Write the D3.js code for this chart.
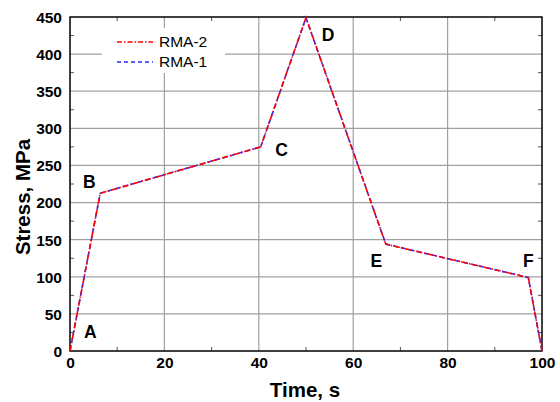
<!DOCTYPE html>
<html><head><meta charset="utf-8">
<script src="https://cdn.jsdelivr.net/npm/d3@7"></script>
<style>body{margin:0;background:#fff}</style>
</head><body><svg id="c" width="560" height="402"></svg>
<script>
const time = [0, 6.4, 40.4, 50, 66.9, 97.1, 100];
const rma1 = [0, 212.5, 275, 449, 144, 99, 0];
const rma2 = [0, 212.5, 275, 449, 144, 99, 0];
const pointLabels = ["A", "B", "C", "D", "E", "F"];
const labelPos = [[4.3, 17.5], [4.1, 220], [44.8, 263], [54.7, 417], [64.9, 113.6], [97.1, 113.6]];
const xTicks = [0, 20, 40, 60, 80, 100];
const yTicks = [0, 50, 100, 150, 200, 250, 300, 350, 400, 450];
const seriesNames = ["RMA-2", "RMA-1"];

const svg = d3.select("#c");
const L = 70, R = 542, T = 17, B = 351;
const x = d3.scaleLinear().domain([0, 100]).range([L, R]);
const y = d3.scaleLinear().domain([0, 450]).range([B, T]);
const font = "Arial, 'Liberation Sans', sans-serif";

// grid
const g = svg.append("g");
g.selectAll(".gx").data(xTicks.slice(1, -1)).join("line")
  .attr("x1", d => x(d)).attr("x2", d => x(d)).attr("y1", T).attr("y2", B)
  .attr("stroke", "#a0a0a0").attr("stroke-width", 1.2);
g.selectAll(".gy").data(yTicks.slice(1, -1)).join("line")
  .attr("x1", L).attr("x2", R).attr("y1", d => y(d)).attr("y2", d => y(d))
  .attr("stroke", "#a0a0a0").attr("stroke-width", 1.2);

// legend background
svg.append("rect").attr("x", 102).attr("y", 28).attr("width", 123).attr("height", 45).attr("fill", "#fff");

// axes with inward ticks
const minorX = d3.range(10, 100, 20);
const minorY = d3.range(25, 450, 50);
const ax = svg.append("g").attr("transform", `translate(0,${B})`)
  .call(d3.axisBottom(x).tickValues(xTicks).tickSize(0).tickPadding(6));
ax.select(".domain").remove();
ax.selectAll("text").attr("font-family", font).attr("font-weight", "bold").attr("font-size", 15.5).attr("fill", "#000");
const ay = svg.append("g").attr("transform", `translate(${L},0)`)
  .call(d3.axisLeft(y).tickValues(yTicks).tickSize(0).tickPadding(8));
ay.select(".domain").remove();
ay.selectAll("text").attr("font-family", font).attr("font-weight", "bold").attr("font-size", 15.5).attr("fill", "#000").attr("dy", "0.35em");

const tk = svg.append("g").attr("stroke", "#555").attr("stroke-width", 1);
minorX.forEach(d => {
  tk.append("line").attr("x1", x(d)).attr("x2", x(d)).attr("y1", B).attr("y2", B - 4);
  tk.append("line").attr("x1", x(d)).attr("x2", x(d)).attr("y1", T).attr("y2", T + 4);
});
minorY.forEach(d => {
  tk.append("line").attr("x1", L).attr("x2", L + 4).attr("y1", y(d)).attr("y2", y(d));
  tk.append("line").attr("x1", R).attr("x2", R - 4).attr("y1", y(d)).attr("y2", y(d));
});
svg.append("rect").attr("x", L).attr("y", T).attr("width", R - L).attr("height", B - T)
  .attr("fill", "none").attr("stroke", "#000").attr("stroke-width", 1.5);

// lines
const line = d3.line().x((d, i) => x(time[i])).y(d => y(d));
svg.append("path").datum(rma1).attr("d", line).attr("fill", "none")
  .attr("stroke", "#2a2aff").attr("stroke-width", 1.6).attr("stroke-dasharray", "5,3");
svg.append("path").datum(rma2).attr("d", line).attr("fill", "none")
  .attr("stroke", "#ff0000").attr("stroke-width", 1.6).attr("stroke-dasharray", "6,2,1.5,2");

// point labels
svg.selectAll(".pl").data(pointLabels).join("text")
  .attr("x", (d, i) => x(labelPos[i][0])).attr("y", (d, i) => y(labelPos[i][1]))
  .attr("font-family", font).attr("font-weight", "bold").attr("font-size", 17.5)
  .attr("text-anchor", "middle").text(d => d);

// legend
const leg = svg.append("g");
seriesNames.forEach((n, i) => {
  const yy = 42 + i * 20;
  leg.append("line").attr("x1", 117).attr("x2", 153).attr("y1", yy).attr("y2", yy)
    .attr("stroke", i === 0 ? "#ff0000" : "#2a2aff").attr("stroke-width", 1.3)
    .attr("stroke-dasharray", i === 0 ? "5,2,1.5,2" : "4,3");
  leg.append("text").attr("x", 159).attr("y", yy).attr("dy", "0.35em")
    .attr("font-family", font).attr("font-size", 15.5).text(n);
});

// axis titles
svg.append("text").attr("x", 305).attr("y", 397).attr("text-anchor", "middle")
  .attr("font-family", font).attr("font-weight", "bold").attr("font-size", 20.5).text("Time, s");
svg.append("text").attr("transform", `translate(30,197) rotate(-90)`).attr("text-anchor", "middle")
  .attr("font-family", font).attr("font-weight", "bold").attr("font-size", 20.5).text("Stress, MPa");
</script></body></html>
